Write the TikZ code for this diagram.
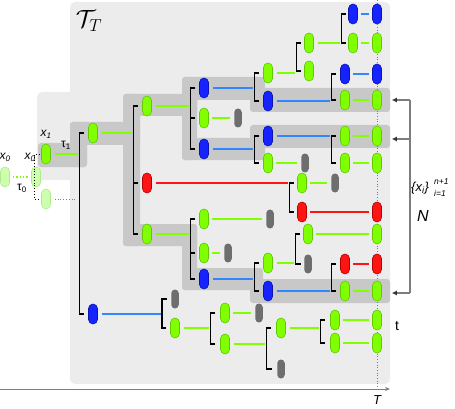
\documentclass[tikz,border=0pt]{standalone}
\usepackage{fontspec}
\setsansfont{Liberation Sans}
\usetikzlibrary{positioning,arrows.meta}
\tikzset{>=latex}
\definecolor{panelgrey}{RGB}{236,236,236}
\definecolor{bandgrey}{RGB}{200,200,200}
\definecolor{leafgreen}{RGB}{128,255,0}
\definecolor{leafgreenedge}{RGB}{96,200,0}
\definecolor{lineblue}{RGB}{50,135,255}
\definecolor{nodeblue}{RGB}{20,35,255}
\definecolor{nodeblueedge}{RGB}{10,20,170}
\definecolor{nodered}{RGB}{255,20,20}
\definecolor{noderededge}{RGB}{180,0,0}
\definecolor{deadgrey}{RGB}{110,110,110}
\definecolor{fadegreen}{RGB}{205,255,175}
\definecolor{fadegreenedge}{RGB}{175,235,140}
\definecolor{axisgrey}{RGB}{125,125,125}
\tikzstyle{pill}=[rounded corners=4.5pt, minimum width=9pt, minimum height=20pt, inner sep=0pt, line width=0.6pt]
\tikzstyle{gnode}=[pill, fill=leafgreen, draw=leafgreenedge]
\tikzstyle{bnode}=[pill, fill=nodeblue, draw=nodeblueedge]
\tikzstyle{rnode}=[pill, fill=nodered, draw=noderededge]
\tikzstyle{dnode}=[pill, rounded corners=3.75pt, minimum width=7.5pt, minimum height=19pt, fill=deadgrey]
\tikzstyle{fnode}=[pill, fill=fadegreen, draw=fadegreenedge]
\tikzstyle{gline}=[line width=1.8pt, leafgreen]
\tikzstyle{bline}=[line width=1.8pt, lineblue]
\tikzstyle{rline}=[line width=1.8pt, nodered]
\tikzstyle{to bracket}=[shorten <=4pt, shorten >=1pt]
\tikzstyle{to leaf}=[shorten <=3.5pt, shorten >=3.5pt]
\tikzstyle{bracket}=[line width=1.3pt, black]
\tikzstyle{band}=[bandgrey, rounded corners=3pt]
\tikzstyle{lbl}=[font=\fontsize{12}{14}\sffamily\itshape, inner sep=0pt]
\tikzstyle{small lbl}=[font=\fontsize{8.5}{10}\sffamily\itshape, inner sep=0pt]
\tikzstyle{pick}=[axisgrey, line width=1.2pt]
\tikzstyle{pick arrow}=[pick, -{Latex[length=5pt,width=5pt,color=black!80]}, shorten >=10pt]

\begin{document}
\begin{tikzpicture}[x=1pt, y=-1pt, on grid]
\useasboundingbox (0,0) rectangle (455,409);

% panels
\fill[panelgrey, rounded corners=5pt] (37,92) rectangle (110,180);
\fill[panelgrey, rounded corners=5pt] (70,2) rectangle (390,384);

% selected lineages
\fill[band] (38,143) rectangle (87,167);
\fill[band] (70,122) rectangle (87,167);
\fill[band] (70,122) rectangle (140,145);
\fill[band] (123,94) rectangle (140,246);
\fill[band] (123,94) rectangle (197,116);
\fill[band] (182,77) rectangle (197,160);
\fill[band] (182,77) rectangle (265,100);
\fill[band] (250,88) rectangle (390,112);
\fill[band] (182,138) rectangle (265,160);
\fill[band] (250,125) rectangle (390,148);
\fill[band] (123,224) rectangle (197,246);
\fill[band] (182,224) rectangle (197,290);
\fill[band] (182,268) rectangle (263,290);
\fill[band] (250,279) rectangle (390,303);

% time axis
\coordinate (t0) at (0,389);
\coordinate (tend) at (390,389);
\coordinate (tT) at (377,389);
\coordinate (tTop) at (377,0);
\draw[axisgrey, dotted, line width=0.7pt] (tTop) -- (tT);
\draw[axisgrey, line width=1pt, -{Stealth[length=5pt,width=4pt]}] (t0) -- (tend);

% start
\node[fnode] (x0) at (5,177) {};
\node[fnode] (x0b) at (36,177) {};
\node[fnode] (x1b) at (46,199) {};
\node[gnode] (x1) at (46,154) {};

% tree nodes
\node[gnode] (n1) at (93,133) {};
\node[bnode] (n2) at (93,314) {};
\node[gnode] (m1) at (147,106) {};
\node[rnode] (m2) at (147,183) {};
\node[gnode] (m3) at (147,234) {};
\node[bnode] (p1) at (204,88) {};
\node[gnode] (p2) at (204,118) {};
\node[bnode] (p3) at (204,149) {};
\node[gnode] (p4) at (204,219) {};
\node[gnode] (p5) at (204,253) {};
\node[bnode] (p6) at (204,279) {};
\node[dnode, right=34pt of p2] (d1) {};
\node[dnode, right=66pt of p4] (d2) {};
\node[dnode, right=24pt of p5] (d3) {};
\node[gnode] (q1) at (268,73) {};
\node[bnode] (q2) at (268,101) {};
\node[bnode] (q3) at (268,136) {};
\node[gnode] (q4) at (268,163) {};
\node[gnode] (q5) at (268,263) {};
\node[bnode] (q6) at (268,291) {};
\node[gnode] (r1) at (309,43) {};
\node[gnode] (r2) at (309,71) {};
\node[dnode, right=37pt of q4] (d4) {};
\node[gnode] (r3) at (302,183) {};
\node[rnode] (r4) at (302,212) {};
\node[gnode] (r5) at (308,234) {};
\node[dnode] (d5) at (308,264) {};
\node[dnode, right=33pt of r3] (d6) {};
\node[bnode] (s1) at (353,14) {};
\node[gnode] (s2) at (353,43) {};
\node[bnode] (s3) at (345,74) {};
\node[gnode] (s4) at (345,100) {};
\node[gnode] (s5) at (345,136) {};
\node[gnode] (s6) at (345,163) {};
\node[rnode] (s7) at (345,264) {};
\node[gnode] (s8) at (345,291) {};
\node[dnode] (u1) at (175,299) {};
\node[gnode] (u2) at (175,328) {};
\node[gnode] (v1) at (225,313) {};
\node[gnode] (v2) at (225,344) {};
\node[dnode, right=34pt of v1] (d7) {};
\node[gnode] (w1) at (281,328) {};
\node[dnode] (w2) at (281,369) {};
\node[gnode] (z1) at (335,320) {};
\node[gnode] (z2) at (335,343) {};

% end points at T
\node[bnode] (e1) at (377,14) {};
\node[gnode] (e2) at (377,43) {};
\node[bnode] (e3) at (377,74) {};
\node[gnode] (e4) at (377,100) {};
\node[gnode] (e5) at (377,136) {};
\node[gnode] (e6) at (377,163) {};
\node[rnode] (e7) at (377,212) {};
\node[gnode] (e8) at (377,234) {};
\node[rnode] (e9) at (377,264) {};
\node[gnode] (e10) at (377,291) {};
\node[gnode] (e11) at (377,320) {};
\node[gnode] (e12) at (377,343) {};

% resampling step
\coordinate (x1bend) at (75,199);
\draw[leafgreen, dotted, line width=1.4pt, shorten <=3pt, shorten >=2pt] (x0.east) -- (x0b.west);
\draw[axisgrey, dotted, line width=0.8pt, shorten <=4pt] (x1b.east) -- (x1bend);
\draw[black, dotted, line width=0.8pt] ([xshift=-1.5]x1.west) -- ++(-5,0) coordinate (k00) |- ([xshift=-1.5]x1b.west);

% branchings
\begin{scope}[bracket]
    \draw ([xshift=-4]n1.west) -- ++(-5,0) coordinate (k0) |- ([xshift=-4]n2.west);
    \draw ([xshift=-4]m1.west) -- ++(-5,0) coordinate (k1) |- ([xshift=-4]m3.west);
    \draw ([xshift=-4]m2.west) -- (m2 -| k1);
    \draw ([xshift=-4]p1.west) -- ++(-5,0) coordinate (k2) |- ([xshift=-4]p3.west);
    \draw ([xshift=-4]p2.west) -- (p2 -| k2);
    \draw ([xshift=-4]p4.west) -- ++(-5,0) coordinate (k12) |- ([xshift=-4]p6.west);
    \draw ([xshift=-4]p5.west) -- (p5 -| k12);
    \draw ([xshift=-4]q1.west) -- ++(-5,0) coordinate (k3) |- ([xshift=-4]q2.west);
    \draw ([xshift=-4]q3.west) -- ++(-5,0) coordinate (k4) |- ([xshift=-4]q4.west);
    \draw ([xshift=-4]q5.west) -- ++(-5,0) coordinate (k13) |- ([xshift=-4]q6.west);
    \draw ([xshift=-3]r1.west) -- ++(-5,0) coordinate (k5) |- ([xshift=-3]r2.west);
    \draw ([xshift=-2]s1.west) -- ++(-5,0) coordinate (k6) |- ([xshift=-2]s2.west);
    \draw ([xshift=-4]s3.west) -- ++(-5,0) coordinate (k7) |- ([xshift=-4]s4.west);
    \draw ([xshift=-4]s5.west) -- ++(-5,0) coordinate (k8) |- ([xshift=-4]s6.west);
    \draw ([xshift=-3]r3.west) -- ++(-5,0) coordinate (k9) |- ([xshift=-3]r4.west);
    \draw ([xshift=-3]r5.west) -- ++(-5,0) coordinate (k10) |- ([xshift=-3]d5.west);
    \draw ([xshift=-4]s7.west) -- ++(-5,0) coordinate (k11) |- ([xshift=-4]s8.west);
    \draw ([xshift=-4]u1.west) -- ++(-5,0) coordinate (k14) |- ([xshift=-4]u2.west);
    \draw ([xshift=-5]v1.west) -- ++(-5,0) coordinate (k15) |- ([xshift=-5]v2.west);
    \draw ([xshift=-5]w1.west) -- ++(-5,0) coordinate (k16) |- ([xshift=-5]w2.west);
    \draw ([xshift=-5]z1.west) -- ++(-5,0) coordinate (k17) |- ([xshift=-5]z2.west);
\end{scope}

% lines into branchings
\draw[gline, to bracket] (x1.east) -- (x1 -| k0);
\draw[gline, to bracket] (n1.east) -- (n1 -| k1);
\draw[gline, to bracket] (m1.east) -- (m1 -| k2);
\draw[gline, to bracket] (m3.east) -- (m3 -| k12);
\draw[rline, to bracket] (m2.east) -- (m2 -| k9);
\draw[bline, to bracket] (p1.east) -- (p1 -| k3);
\draw[bline, to bracket] (p3.east) -- (p3 -| k4);
\draw[bline, to bracket] (p6.east) -- (p6 -| k13);
\draw[gline, to bracket] (q1.east) -- (q1 -| k5);
\draw[bline, to bracket] (q2.east) -- (q2 -| k7);
\draw[bline, to bracket] (q3.east) -- (q3 -| k8);
\draw[gline, to bracket] (q5.east) -- (q5 -| k10);
\draw[bline, to bracket] (q6.east) -- (q6 -| k11);
\draw[gline, to bracket] (r1.east) -- (r1 -| k6);
\draw[bline, to bracket] (n2.east) -- (n2 -| k14);
\draw[gline, to bracket] (u2.east) -- (u2 -| k15);
\draw[gline, to bracket] (v2.east) -- (v2 -| k16);
\draw[gline, to bracket] (w1.east) -- (w1 -| k17);

% lines to leaves
\draw[gline, to leaf] (p2) -- (d1);
\draw[gline, to leaf] (p4) -- (d2);
\draw[gline, to leaf] (p5) -- (d3);
\draw[gline, to leaf] (q4) -- (d4);
\draw[gline, to leaf] (r3) -- (d6);
\draw[gline, to leaf] (v1) -- (d7);
\draw[bline, to leaf] (s1) -- (e1);
\draw[gline, to leaf] (s2) -- (e2);
\draw[bline, to leaf] (s3) -- (e3);
\draw[gline, to leaf] (s4) -- (e4);
\draw[gline, to leaf] (s5) -- (e5);
\draw[gline, to leaf] (s6) -- (e6);
\draw[rline, to leaf] (r4) -- (e7);
\draw[gline, to leaf] (r5) -- (e8);
\draw[rline, to leaf] (s7) -- (e9);
\draw[gline, to leaf] (s8) -- (e10);
\draw[gline, to leaf] (z1.east) -- (e11.west);
\draw[gline, to leaf] (z2.east) -- (e12.west);

% selected particles
\coordinate (sel1) at (410,100);
\coordinate (sel2) at (410,139);
\coordinate (sel3) at (410,293);
\draw[pick] (sel1) -- (sel3);
\draw[pick arrow] (sel1) -- (sel1 -| e4.east);
\draw[pick arrow] (sel2) -- (sel2 -| e5.east);
\draw[pick arrow] (sel3) -- (sel3 -| e10.east);

% labels
\node[inner sep=0pt] (ltree) at (89,21) {\fontsize{24}{28}\selectfont$\mathcal{T}_T$};
\node[lbl, above=20pt of x0] (lx0) {x\textsubscript{0}};
\node[lbl, above=20pt of x0b, xshift=-6pt] (lx0b) {x\textsubscript{0}};
\node[lbl, above=20pt of x1] (lx1) {x\textsubscript{1}};
\node[font=\fontsize{12}{14}\sffamily, inner sep=0pt] (ltau1) at (66,145) {τ\textsubscript{1}};
\node[font=\fontsize{12}{14}\sffamily, inner sep=0pt] (ltau0) at (22,188) {τ\textsubscript{0}};
\node[lbl, anchor=west, font=\fontsize{13}{15}\sffamily\itshape] (lset) at (411,188) {\{x\textsubscript{i}\}};
\node[small lbl, anchor=south west] (lsup) at (434,185) {n+1};
\node[small lbl, anchor=north west] (lsub) at (434,190) {i=1};
\node[lbl, font=\fontsize{16}{18}\sffamily\itshape] (lN) at (423,216) {N};
\node[font=\fontsize{14}{16}\sffamily, inner sep=0pt] (lt) at (397,326) {t};
\node[lbl, font=\fontsize{13}{15}\sffamily\itshape] (lT) at (377,400) {T};

\end{tikzpicture}
\end{document}
